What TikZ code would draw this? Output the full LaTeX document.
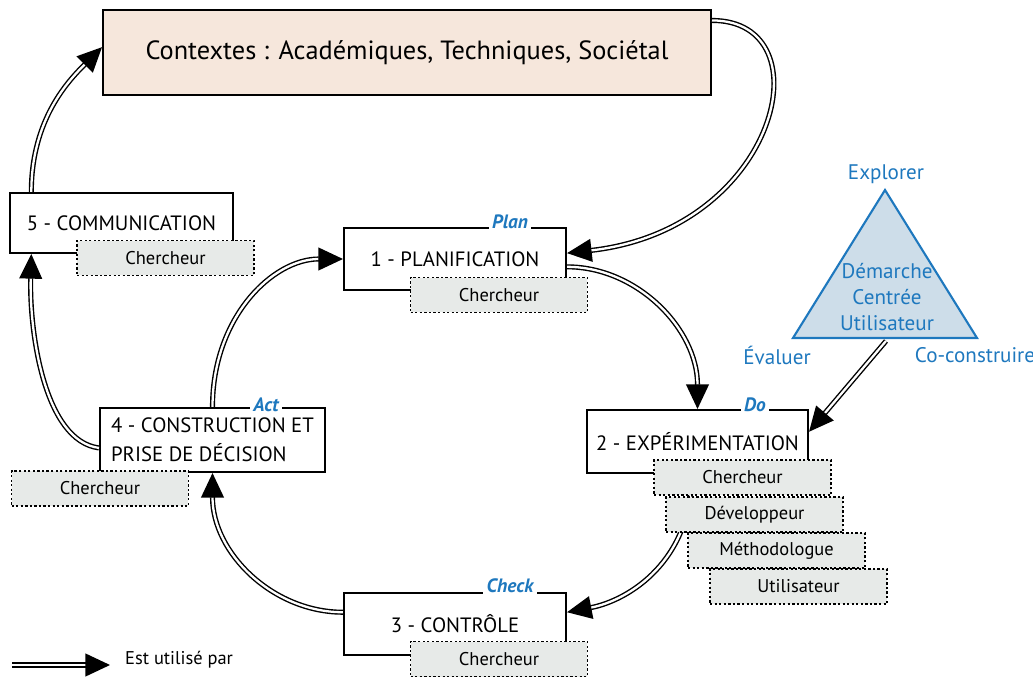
\documentclass[tikz,border=0pt]{standalone}
\usepackage{fontspec}
\setmainfont{PT Sans}
\usepackage{tikz}
\usetikzlibrary{arrows.meta}

\definecolor{ctxfill}{RGB}{246,231,220}
\definecolor{actfill}{RGB}{231,234,232}
\definecolor{pdca}{RGB}{30,120,190}
\definecolor{trifill}{RGB}{205,221,233}

\begin{document}
\begin{tikzpicture}[x=0.02cm,y=-0.02cm]
\useasboundingbox (0,0) rectangle (1033,678);

% triangle
\filldraw[fill=trifill,draw=pdca,line width=1.2pt] (885,190) -- (977,338) -- (793,338) -- cycle;
\coordinate (tb) at (886,341);
\begin{scope}[every node/.style={text=pdca,font=\fontsize{12}{14.7}\selectfont}]
    \node (tri) at (887,297) [align=center] {Démarche\\Centrée\\Utilisateur};
    \node (explo) at (886,174) {Explorer};
    \node (eval) at (777,355) {Évaluer};
    \node (coco) at (975,355) {Co-construire};
\end{scope}

\begin{scope}[every node/.style={draw,line width=1.2pt,fill=white,font=\fontsize{11.8}{16.4}\selectfont}]
    \node (ctx) at (407,52.5) [fill=ctxfill,minimum width=12.16cm,minimum height=1.7cm,font=\fontsize{15}{18}\selectfont] {Contextes : Académiques, Techniques, Sociétal};
    \node (cm) at (121.5,223) [minimum width=4.46cm,minimum height=1.2cm] {5 - COMMUNICATION};
    \node (pl) at (455,259) [minimum width=4.44cm,minimum height=1.24cm] {1 - PLANIFICATION};
    \node (ex) at (697.5,441.5) [minimum width=4.42cm,minimum height=1.26cm] {2 - EXPÉRIMENTATION};
    \node (cn) at (455,624) [minimum width=4.44cm,minimum height=1.24cm] {3 - CONTRÔLE};
    \node (ac) at (212.5,440) [minimum width=4.5cm,minimum height=1.28cm,align=left] {4 - CONSTRUCTION ET\\PRISE DE DÉCISION};
\end{scope}

\begin{scope}[>={Triangle[length=14pt,width=13pt]},
              every path/.style={draw=black,line width=0.8pt,double=white,double distance=1.3pt}]
    \draw [->] (ctx.6) .. controls +(115,0) and +(212,-24) .. (pl.3);
    \draw [->] (pl.-4) .. controls +(70,0) and +(0,-80) .. (ex.north);
    \draw [->] (ex.-100) .. controls +(0,87) and +(62,-12) .. (cn.6);
    \draw [->] (cn.174) .. controls +(-70,0) and +(0,80) .. (ac.south);
    \draw [->] (ac.north) .. controls +(0,-90) and +(-70,0) .. (pl.west);
    \draw [->] (ac.184) .. controls +(-55,-7) and +(-2,77) .. (cm.199);
    \draw [->] (cm.161) .. controls +(0,-73) and +(-33,33) .. (ctx.179);
    \draw [->] (tb) -- (ex.5);
\end{scope}

\begin{scope}[every node/.style={draw,fill=actfill,line width=1pt,dash pattern=on 1.3pt off 1.3pt,
              minimum width=3.54cm,minimum height=0.7cm,font=\fontsize{10.5}{12}\selectfont}]
    \node (cmr) at (165.5,258) {Chercheur};
    \node (plr) at (499,295) {Chercheur};
    \node (exr) at (742.5,477.5) {Chercheur};
    \node (exd) at (754.5,514.5) {Développeur};
    \node (exm) at (776.5,550.5) {Méthodologue};
    \node (exu) at (798.5,586.5) {Utilisateur};
    \node (cnr) at (499,659) {Chercheur};
    \node (acr) at (100,488.5) {Chercheur};
\end{scope}

\begin{scope}[every node/.style={fill=white,text=pdca,inner sep=2pt,font=\fontsize{11}{13}\selectfont\bfseries\itshape}]
    \node (plan) at (510,222) {Plan};
    \node (do) at (755,405) {Do};
    \node (check) at (510,586) {Check};
    \node (act) at (266,405) {Act};
\end{scope}

% legend
\coordinate (lgs) at (12,665);
\coordinate (lge) at (110,665);
\draw [-{Triangle[length=14pt,width=13pt]},line width=0.8pt,double=white,double distance=1.3pt] (lgs) -- (lge);
\node (lgtext) at (119,660) [anchor=west,font=\fontsize{10.5}{12}\selectfont] {Est utilisé par};
\end{tikzpicture}
\end{document}
